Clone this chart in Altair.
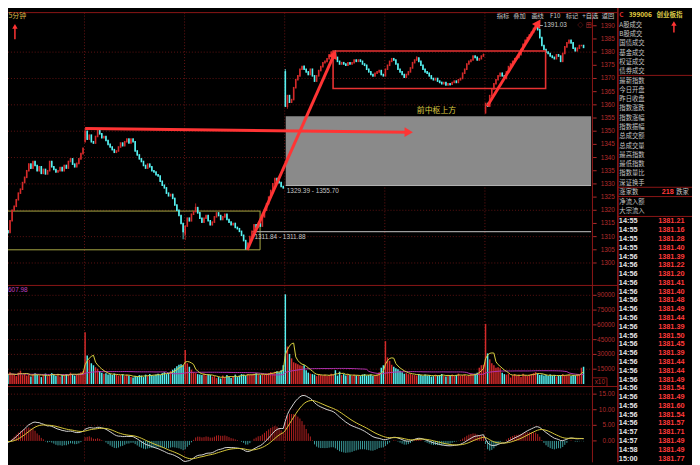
import math
import altair as alt
import pandas as pd

# ---------------- values ----------------
closes_d0 = [1314.5, 1313.0, 1313.8, 1312.2, 1311.6, 1316.0, 1320.0, 1321.5, 1324.0, 1326.5,
             1328.0, 1330.5, 1332.5, 1335.0, 1337.5, 1336.0, 1338.5, 1337.0, 1335.0, 1336.5,
             1334.0, 1335.5, 1333.8, 1335.0, 1338.5, 1336.5, 1335.5, 1334.5, 1335.0, 1336.2,
             1335.0, 1337.0, 1336.0, 1338.5, 1339.5, 1337.5, 1336.5, 1337.8, 1339.5, 1341.5,
             1343.5]
closes_d1 = [1350.0, 1347.0, 1348.5, 1346.0, 1345.5, 1348.0, 1350.5, 1349.0, 1347.5, 1348.0,
             1346.5, 1345.0, 1344.0, 1343.0, 1342.0, 1342.5, 1344.0, 1345.5, 1344.5, 1346.0,
             1347.0, 1345.5, 1347.0, 1346.0, 1342.5, 1341.0, 1339.5, 1338.5, 1337.0, 1336.0,
             1337.5, 1336.5, 1335.0, 1334.5, 1333.5, 1333.0, 1331.0, 1329.5, 1328.5, 1326.5,
             1325.5, 1326.0, 1324.5, 1322.0, 1320.0, 1318.0, 1315.0, 1312.0]
closes_d2 = [1314.0, 1317.0, 1316.0, 1318.5, 1319.5, 1321.0, 1319.0, 1317.0, 1315.5, 1317.0,
             1318.0, 1316.0, 1314.5, 1315.5, 1317.5, 1319.0, 1318.0, 1316.5, 1317.5, 1318.5,
             1316.5, 1315.5, 1314.5, 1315.0, 1313.5, 1313.0, 1312.0, 1310.5, 1308.5, 1305.5,
             1307.5, 1310.0, 1312.0, 1314.5, 1313.5, 1315.0, 1314.0, 1317.5, 1320.0, 1322.5,
             1325.0, 1327.5, 1330.0, 1332.0, 1331.0, 1330.5, 1329.0, 1328.5]
closes_d3 = [1359.5, 1363.5, 1361.0, 1362.0, 1366.5, 1369.5, 1371.0, 1373.5, 1374.5, 1373.5,
             1372.5, 1371.5, 1373.5, 1371.0, 1369.0, 1371.0, 1373.0, 1374.5, 1376.0, 1376.5,
             1377.5, 1379.0, 1380.0, 1380.0, 1378.0, 1376.5, 1375.5, 1376.0, 1375.5, 1375.0,
             1376.0, 1375.5, 1376.0, 1377.0, 1376.5, 1377.0, 1376.5, 1375.5, 1375.0, 1373.5,
             1372.5, 1371.5, 1371.0, 1372.0, 1372.5, 1373.0, 1371.5, 1371.0]
closes_d4 = [1373.5, 1375.0, 1376.5, 1377.5, 1377.0, 1375.5, 1373.5, 1372.5, 1371.5, 1370.5,
             1371.5, 1372.5, 1374.0, 1376.0, 1377.0, 1377.8, 1376.5, 1375.0, 1373.5, 1372.5,
             1372.0, 1371.0, 1370.0, 1369.5, 1370.0, 1369.0, 1368.5, 1368.0, 1368.5, 1367.5,
             1368.0, 1367.8, 1368.5, 1369.0, 1368.5, 1369.5, 1370.0, 1372.0, 1373.5, 1375.5,
             1376.5, 1377.0, 1378.5, 1378.0, 1377.0, 1377.5, 1378.5, 1379.0]
closes_d5 = [1360.5, 1359.5, 1363.5, 1366.0, 1368.0, 1369.5, 1371.0, 1372.0, 1371.0, 1370.0,
             1372.5, 1374.5, 1375.5, 1376.5, 1377.5, 1378.0, 1379.0, 1381.0, 1383.0, 1384.5,
             1385.5, 1386.5, 1387.5, 1389.0, 1390.5, 1388.5, 1385.5, 1382.5, 1381.0, 1380.0,
             1379.5, 1378.5, 1378.0, 1377.5, 1379.0, 1378.5, 1376.5, 1379.5, 1382.0, 1383.5,
             1384.5, 1383.5, 1381.5, 1380.5, 1381.5, 1382.5, 1382.5, 1381.8]
day_opens = {0: 1313.5, 41: 1346.0, 89: 1311.0, 137: 1372.5, 185: 1371.0, 233: 1357.0}
wick_high = {41: 1351.0, 47: 1350.8, 94: 1322.6, 137: 1373.6, 146: 1375.0, 161: 1380.8,
             200: 1378.5, 232: 1379.5, 257: 1391.03}
wick_low = {4: 1311.2, 88: 1309.0, 89: 1308.7, 118: 1305.0, 138: 1358.5, 216: 1367.2, 233: 1356.8}

vol_d0 = [10500, 9500, 11000, 8500, 9000, 12000, 10000, 9500, 8000, 11500,
          13500, 9000, 10500, 8500, 9500, 7500, 10000, 11000, 9000, 8500,
          7000, 9500, 10500, 8000, 9000, 11000, 9500, 8000, 10500, 7500,
          9000, 8500, 10000, 9500, 11500, 10000, 8500, 9500, 10500, 12000, 13000]
vol_d1 = [52500, 29000, 24500, 21000, 19000, 17000, 15500, 13000, 11500, 10500,
          11000, 9500, 10000, 9000, 10500, 9500, 8500, 9000, 10000, 8000,
          9500, 8500, 7000, 6500, 8000, 7500, 9000, 8500, 7000, 9500,
          8000, 10000, 9000, 8500, 9500, 10500, 9000, 11000, 12000, 10000,
          11500, 13000, 14500, 16000, 18000, 19500, 20000, 19000]
vol_d2 = [34500, 21000, 17500, 14500, 12000, 11000, 10000, 9500, 9000, 10500,
          8500, 9500, 9000, 7500, 8000, 6000, 7000, 5500, 8500, 6500,
          9000, 7500, 6000, 8000, 9500, 7000, 8500, 10000, 9500, 8500,
          10000, 9000, 9500, 10500, 11000, 9500, 9000, 10000, 9500, 10500,
          11000, 12000, 11500, 12500, 13000, 12000, 14000, 19000]
vol_d3 = [91000, 38000, 30500, 26000, 22000, 21000, 20000, 19000, 18500, 19000,
          14000, 11500, 10500, 10000, 9500, 8000, 10000, 9000, 8500, 9500,
          8000, 9000, 10500, 9500, 14000, 8500, 12500, 9000, 10000, 8500,
          9500, 9000, 8000, 9500, 8500, 9000, 8000, 9500, 10000, 8500,
          9000, 9500, 8000, 8500, 9500, 12000, 16500, 19000]
vol_d4 = [43500, 27000, 23500, 19500, 17500, 16000, 15000, 13500, 12000, 10500,
          11000, 10000, 10500, 9500, 9000, 8500, 10000, 9000, 8000, 9500,
          8500, 9000, 7500, 8000, 9500, 8500, 9000, 10000, 8000, 7500,
          9000, 8500, 9500, 8000, 9000, 10500, 8500, 9000, 9500, 8000,
          9000, 10000, 9500, 10500, 11500, 16500, 19000, 19500]
vol_d5 = [61000, 31000, 25000, 21000, 19000, 16500, 17000, 16000, 11500, 10000,
          9500, 10500, 6500, 9000, 10000, 8500, 9500, 7000, 10500, 9000,
          8000, 9500, 10000, 11000, 12000, 10500, 9000, 9500, 8500, 9000,
          8000, 9500, 8500, 9000, 7500, 8500, 9000, 10000, 8500, 9000,
          9500, 8000, 9000, 8500, 10000, 9500, 16500, 17500]

price_ticks = list(range(1300, 1395, 5))
price_grid = list(range(1300, 1390, 10))
vol_ticks = [15000, 30000, 45000, 60000, 75000, 90000]
macd_ticks = [0, 5, 10, 15]
macd_grid = [5, 10, 15]
day_starts = [41, 89, 137, 185, 233]

centre_zone_price = [1329.39, 1355.70]
centre_zone_bars = [137.2, 283.6]
old_box_price = [1305.0, 1319.7]
old_box_bars = [0.0, 124.9]
new_box_price = [1366.2, 1380.4]
new_box_bars = [159.9, 261.8]
pivot_price = 1311.86
pivot_bars = [121.1, 283.6]

arrow_from_bar = [41.0, 118.7, 233.8]
arrow_from_price = [1351.0, 1305.0, 1359.5]
arrow_to_bar = [198.3, 161.3, 259.4]
arrow_to_price = [1349.6, 1380.7, 1392.5]

zone_label_text = ["1329.39 - 1355.70", "1311.84 - 1311.88"]
zone_label_bar = [137.7, 122.2]
zone_label_price = [1327.2, 1310.0]
peak_label = "1391.03"
peak_label_bar = 260.9
peak_label_price = 1390.1
note_text = "前中枢上方"
note_bar = 209.5
note_price = 1357.5
vol_title = "607.98"
period_title = "5分钟"

toolbar_items = ["指标", "叠加", "画线", "F10", "标记", "+自选", "返回"]
header_code = "399006"
header_name = "创业板指"
panel_labels_1 = ["A股成交", "B股成交", "国债成交", "基金成交", "权证成交", "债券成交"]
panel_labels_2 = ["最新指数", "今日开盘", "昨日收盘", "指数涨跌", "指数涨幅", "指数振幅",
                  "总成交额", "总成交量", "最高指数", "最低指数", "指数量比", "深证换手"]
adv_label, adv_count, dec_label = "涨家数", "218", "跌家"
flow_labels = ["净流入额", "大宗流入"]
tick_times = ["14:55", "14:55", "14:55", "14:55", "14:56", "14:56", "14:56", "14:56",
              "14:56", "14:56", "14:56", "14:56", "14:56", "14:56", "14:56", "14:56",
              "14:56", "14:56", "14:56", "14:56", "14:56", "14:56", "14:56", "14:56",
              "14:57", "14:57", "14:58", "15:00"]
tick_prices = ["1381.21", "1381.16", "1381.28", "1381.40", "1381.39", "1381.22", "1381.20",
               "1381.41", "1381.40", "1381.48", "1381.49", "1381.44", "1381.39", "1381.50",
               "1381.45", "1381.39", "1381.44", "1381.44", "1381.49", "1381.54", "1381.49",
               "1381.60", "1381.54", "1381.57", "1381.71", "1381.49", "1381.49", "1381.77"]

# ---------------- styling / layout ----------------
RED = "#d42a2a"
CYAN = "#56f2f2"
FRAME = "#8c1616"
GRID = "#5e1212"
AXT = "#b42c2c"
ANN = "#ff3434"
CJK = "Noto Sans CJK SC"
NUM = "Liberation Sans"

XS = alt.Scale(domain=[0, 280], range=[-8.5, 582.3], nice=False, zero=False)
PS = alt.Scale(domain=[1300, 1390], range=[255.3, 15.3], nice=False, zero=False)
VS = alt.Scale(domain=[0, 90000], range=[377.7, 288], nice=False, zero=False)
MS = alt.Scale(domain=[0, 15], range=[435.3, 388], nice=False, zero=False)
PXB, PXP = 590.8 / 280, 240.0 / 90

# ---------------- tables ----------------
closes = closes_d0 + closes_d1 + closes_d2 + closes_d3 + closes_d4 + closes_d5
volumes = vol_d0 + vol_d1 + vol_d2 + vol_d3 + vol_d4 + vol_d5
n = len(closes)
opens = [day_opens[i] if i in day_opens else closes[i - 1] for i in range(n)]
rows = []
for i in range(n):
    o, c = opens[i], closes[i]
    up = c >= o
    rows.append(dict(i=i, o=o, c=c,
                     hi=max(o, c, wick_high.get(i, -1e9)),
                     lo=min(o, c, wick_low.get(i, 1e9)),
                     col=RED if up else CYAN,
                     v=volumes[i], v0=0))
cdf = pd.DataFrame(rows)
cdf["ma5"] = cdf["v"].rolling(5, min_periods=1).mean()
cdf["ma40"] = cdf["v"].rolling(40, min_periods=1).mean()
s = cdf["c"]
dif = s.ewm(span=12, adjust=False).mean() - s.ewm(span=26, adjust=False).mean()
dea = dif.ewm(span=9, adjust=False).mean()
cdf["dif"] = dif
cdf["dea"] = dea
cdf["hist"] = 2 * (dif - dea)
cdf["hcol"] = ["#b42020" if h >= 0 else "#3c9e9e" for h in cdf["hist"]]
cdf["m0"] = 0.0


def xq(f):
    return alt.X(f, type="quantitative", scale=XS, axis=None)


def yq(f, sc):
    return alt.Y(f, type="quantitative", scale=sc, axis=None)


def xpix(f="x"):
    return alt.X(f, type="quantitative", scale=None, axis=None)


def ypix(f="y"):
    return alt.Y(f, type="quantitative", scale=None, axis=None)


layers = []

# grids
layers.append(alt.Chart(pd.DataFrame({"p": price_grid})).mark_rule(color=GRID, strokeDash=[1, 2])
              .encode(x=alt.value(0), x2=alt.value(591), y=yq("p", PS)))
layers.append(alt.Chart(pd.DataFrame({"p": vol_ticks})).mark_rule(color=GRID, strokeDash=[1, 2])
              .encode(x=alt.value(0), x2=alt.value(591), y=yq("p", VS)))
layers.append(alt.Chart(pd.DataFrame({"p": macd_grid})).mark_rule(color=GRID, strokeDash=[1, 2])
              .encode(x=alt.value(0), x2=alt.value(591), y=yq("p", MS)))
layers.append(alt.Chart(pd.DataFrame({"b": [d - 0.3 for d in day_starts]}))
              .mark_rule(color="#6a1414", strokeDash=[1, 2])
              .encode(x=xq("b"), y=alt.value(2), y2=alt.value(457)))

# zones and boxes
layers.append(alt.Chart(pd.DataFrame({"b0": [centre_zone_bars[0]], "b1": [centre_zone_bars[1]],
                                      "p0": [centre_zone_price[0]], "p1": [centre_zone_price[1]]}))
              .mark_rect(color="#8a8a8a", opacity=1)
              .encode(x=xq("b0"), x2="b1:Q", y=yq("p0", PS), y2="p1:Q"))
layers.append(alt.Chart(pd.DataFrame({"b0": [centre_zone_bars[0]], "b1": [centre_zone_bars[1]],
                                      "p0": [centre_zone_price[0]]}))
              .mark_rule(color="#b4b4b4", strokeWidth=1)
              .encode(x=xq("b0"), x2="b1:Q", y=yq("p0", PS)))
layers.append(alt.Chart(pd.DataFrame({"b0": [old_box_bars[0]], "b1": [old_box_bars[1]],
                                      "p0": [old_box_price[0]], "p1": [old_box_price[1]]}))
              .mark_rect(fillOpacity=0, stroke="#a8a844", strokeWidth=1)
              .encode(x=xq("b0"), x2="b1:Q", y=yq("p0", PS), y2="p1:Q"))
layers.append(alt.Chart(pd.DataFrame({"b0": [pivot_bars[0]], "b1": [pivot_bars[1]], "p": [pivot_price]}))
              .mark_rule(color="#9c9c9c", strokeWidth=1.3)
              .encode(x=xq("b0"), x2="b1:Q", y=yq("p", PS)))

# candles
layers.append(alt.Chart(cdf).mark_rule(strokeWidth=0.8)
              .encode(x=xq("i"), y=yq("lo", PS), y2="hi:Q", color=alt.Color("col:N", scale=None)))
layers.append(alt.Chart(cdf).mark_rule(strokeWidth=1.6, strokeCap="square")
              .encode(x=xq("i"), y=yq("o", PS), y2="c:Q", color=alt.Color("col:N", scale=None)))

layers.append(alt.Chart(pd.DataFrame({"b0": [new_box_bars[0]], "b1": [new_box_bars[1]],
                                      "p0": [new_box_price[0]], "p1": [new_box_price[1]]}))
              .mark_rect(fillOpacity=0, stroke="#e83232", strokeWidth=1.6)
              .encode(x=xq("b0"), x2="b1:Q", y=yq("p0", PS), y2="p1:Q"))

# arrows
heads = []
for fb, fp, tb, tp in zip(arrow_from_bar, arrow_from_price, arrow_to_bar, arrow_to_price):
    dxp, dyp = (tb - fb) * PXB, (tp - fp) * PXP
    L = math.hypot(dxp, dyp)
    back = 4.5
    heads.append(dict(fb=fb, fp=fp,
                      hb=tb - dxp / L * back / PXB, hp=tp - dyp / L * back / PXP,
                      ang=math.degrees(math.atan2(dxp, dyp))))
hdf = pd.DataFrame(heads)
layers.append(alt.Chart(hdf).mark_rule(color=ANN, strokeWidth=3)
              .encode(x=xq("fb"), x2="hb:Q", y=yq("fp", PS), y2="hp:Q"))
layers.append(alt.Chart(hdf).mark_point(shape="triangle-up", filled=True, size=95, color=ANN, opacity=1)
              .encode(x=xq("hb"), y=yq("hp", PS), angle=alt.Angle("ang:Q", scale=None)))

# chart labels
layers.append(alt.Chart(pd.DataFrame({"b": zone_label_bar, "p": zone_label_price, "t": zone_label_text}))
              .mark_text(align="left", baseline="middle", font=NUM, fontSize=6.5, color="#c8c8c8")
              .encode(x=xq("b"), y=yq("p", PS), text="t:N"))
layers.append(alt.Chart(pd.DataFrame({"b": [peak_label_bar], "p": [peak_label_price], "t": [peak_label]}))
              .mark_text(align="left", baseline="middle", font=NUM, fontSize=6.5, color="#c8c8c8")
              .encode(x=xq("b"), y=yq("p", PS), text="t:N"))
layers.append(alt.Chart(pd.DataFrame({"b0": [peak_label_bar - 1.9], "b1": [peak_label_bar - 0.4],
                                      "p": [peak_label_price]}))
              .mark_rule(color="#c8c8c8", strokeWidth=0.8)
              .encode(x=xq("b0"), x2="b1:Q", y=yq("p", PS)))
layers.append(alt.Chart(pd.DataFrame({"b": [note_bar], "p": [note_price], "t": [note_text]}))
              .mark_text(align="center", baseline="middle", font=CJK, fontSize=8, color="#dccb44")
              .encode(x=xq("b"), y=yq("p", PS), text="t:N"))

# volume
layers.append(alt.Chart(cdf).mark_rule(strokeWidth=1.5)
              .encode(x=xq("i"), y=yq("v0", VS), y2="v:Q", color=alt.Color("col:N", scale=None)))
layers.append(alt.Chart(cdf).mark_line(color="#b032b0", strokeWidth=1)
              .encode(x=xq("i"), y=yq("ma40", VS)))
layers.append(alt.Chart(cdf).mark_line(color="#d8d040", strokeWidth=1)
              .encode(x=xq("i"), y=yq("ma5", VS)))

# MACD
layers.append(alt.Chart(cdf).mark_rule(strokeWidth=1)
              .encode(x=xq("i"), y=yq("m0", MS), y2="hist:Q", color=alt.Color("hcol:N", scale=None)))
layers.append(alt.Chart(cdf).mark_line(color="#d4d4d4", strokeWidth=1)
              .encode(x=xq("i"), y=yq("dif", MS)))
layers.append(alt.Chart(cdf).mark_line(color="#d8c83a", strokeWidth=1)
              .encode(x=xq("i"), y=yq("dea", MS)))

# right-hand scale labels
for ticks, sc, fmt in [(price_ticks, PS, "{:d}"), (vol_ticks, VS, "{:d}"), (macd_ticks, MS, "{:.2f}")]:
    tdf = pd.DataFrame({"p": ticks, "t": [fmt.format(t) for t in ticks]})
    layers.append(alt.Chart(tdf).mark_text(align="right", baseline="middle", font=NUM, fontSize=6.5, color=AXT)
                  .encode(x=alt.value(614), y=yq("p", sc), text="t:N"))
    layers.append(alt.Chart(tdf).mark_rule(color=AXT)
                  .encode(x=alt.value(592), x2=alt.value(595.5), y=yq("p", sc)))

# frames (pixel layout)
frames = pd.DataFrame([
    dict(x=0, x2=617, y=2, y2=2, w=1), dict(x=0, x2=617, y=278, y2=278, w=1),
    dict(x=0, x2=617, y=380.3, y2=380.3, w=1), dict(x=591.3, x2=591.3, y=2, y2=457, w=1),
    dict(x=617, x2=617, y=-8, y2=457, w=1.6), dict(x=617, x2=692, y=65.5, y2=65.5, w=1),
    dict(x=617, x2=692, y=178.7, y2=178.7, w=1), dict(x=617, x2=692, y=188.1, y2=188.1, w=1),
    dict(x=617, x2=692, y=208.2, y2=208.2, w=1),
    dict(x=591.5, x2=606, y=371.5, y2=371.5, w=1), dict(x=606, x2=606, y=371.5, y2=380, w=1),
])
layers.append(alt.Chart(frames).mark_rule(color=FRAME)
              .encode(x=xpix(), x2="x2:Q", y=ypix(), y2="y2:Q",
                      strokeWidth=alt.StrokeWidth("w:Q", scale=None)))

# decorative up arrows
arr = pd.DataFrame([dict(x=7, y=29, y2=17, hy=16), dict(x=673.7, y=22, y2=14, hy=13)])
layers.append(alt.Chart(arr).mark_rule(color=ANN, strokeWidth=1.5)
              .encode(x=xpix(), y=ypix(), y2="y2:Q"))
layers.append(alt.Chart(arr).mark_point(shape="triangle-up", filled=True, size=30, color=ANN, opacity=1)
              .encode(x=xpix(), y=ypix("hy")))


def ptext(df, **kw):
    return (alt.Chart(df).mark_text(baseline="middle", **kw)
            .encode(x=xpix(), y=ypix(), text="t:N", color=alt.Color("c:N", scale=None)))


# small chart texts
layers.append(ptext(pd.DataFrame([dict(x=0.5, y=5.3, t=period_title, c="#d8b848")]),
                    align="left", font=CJK, fontSize=7))
layers.append(ptext(pd.DataFrame([dict(x=0, y=283, t=vol_title, c="#c040c0")]),
                    align="left", font=NUM, fontSize=6.5))
layers.append(ptext(pd.DataFrame([dict(x=593.5, y=376, t="x10", c=AXT)]),
                    align="left", font=NUM, fontSize=6.5))
layers.append(ptext(pd.DataFrame([dict(x=579, y=15, t="◇", c="#c03030"), dict(x=587.5, y=15, t="田", c="#c03030")]),
                    align="center", font=CJK, fontSize=6))

# toolbar and header (top strip, kept inside the visible page)
seps = [500.7, 516.7, 534.3, 553.3, 570.0, 587.3, 606.7, 623.3]
tb = pd.DataFrame([dict(x=(seps[k] + seps[k + 1]) / 2 - 8, y=5, t=t, c="#c8c8c8")
                   for k, t in enumerate(toolbar_items)])
layers.append(ptext(tb, align="center", font=CJK, fontSize=6.3))
hd = pd.DataFrame([dict(x=618.5, y=4.9, t="C", c="#e03030"),
                   dict(x=628, y=4.9, t=header_code, c="#e8d040"),
                   dict(x=656, y=4.9, t=header_name, c="#d8c848")])
layers.append(ptext(hd, align="left", font=CJK, fontSize=6.6, fontWeight="bold"))

# right information panel
lab_rows = []
for k, t in enumerate(panel_labels_1):
    lab_rows.append(dict(x=618.5, y=14.3 + 9.4 * k, t=t, c="#c4c4c4"))
for k, t in enumerate(panel_labels_2):
    lab_rows.append(dict(x=618.5, y=70.7 + 9.4 * k, t=t, c="#c4c4c4"))
lab_rows.append(dict(x=618.5, y=183.5, t=adv_label, c="#c4c4c4"))
lab_rows.append(dict(x=676, y=183.5, t=dec_label, c="#c4c4c4"))
for k, t in enumerate(flow_labels):
    lab_rows.append(dict(x=618.5, y=193.3 + 9.45 * k, t=t, c="#c4c4c4"))
layers.append(ptext(pd.DataFrame(lab_rows), align="left", font=CJK, fontSize=6.4))
layers.append(ptext(pd.DataFrame([dict(x=661.5, y=183.5, t=adv_count, c="#ff3a3a")]),
                    align="left", font=NUM, fontSize=7.3, fontWeight="bold"))
time_rows = pd.DataFrame([dict(x=618, y=213.2 + 8.89 * k, t=t, c="#e4e4e4") for k, t in enumerate(tick_times)])
val_rows = pd.DataFrame([dict(x=684.5, y=213.2 + 8.89 * k, t=t, c="#ff3a3a") for k, t in enumerate(tick_prices)])
layers.append(ptext(time_rows, align="left", font=NUM, fontSize=7.4, fontWeight="bold"))
layers.append(ptext(val_rows, align="right", font=NUM, fontSize=7.4, fontWeight="bold"))

chart = (alt.layer(*layers)
         .resolve_scale(x="independent", y="independent", color="independent")
         .properties(width=692, height=457, autosize=alt.AutoSizeParams(type="none"),
                     padding=0, background="#000000")
         .configure_view(strokeWidth=0))

chart.save("out.html", embed_options={"renderer": "svg", "actions": False})
